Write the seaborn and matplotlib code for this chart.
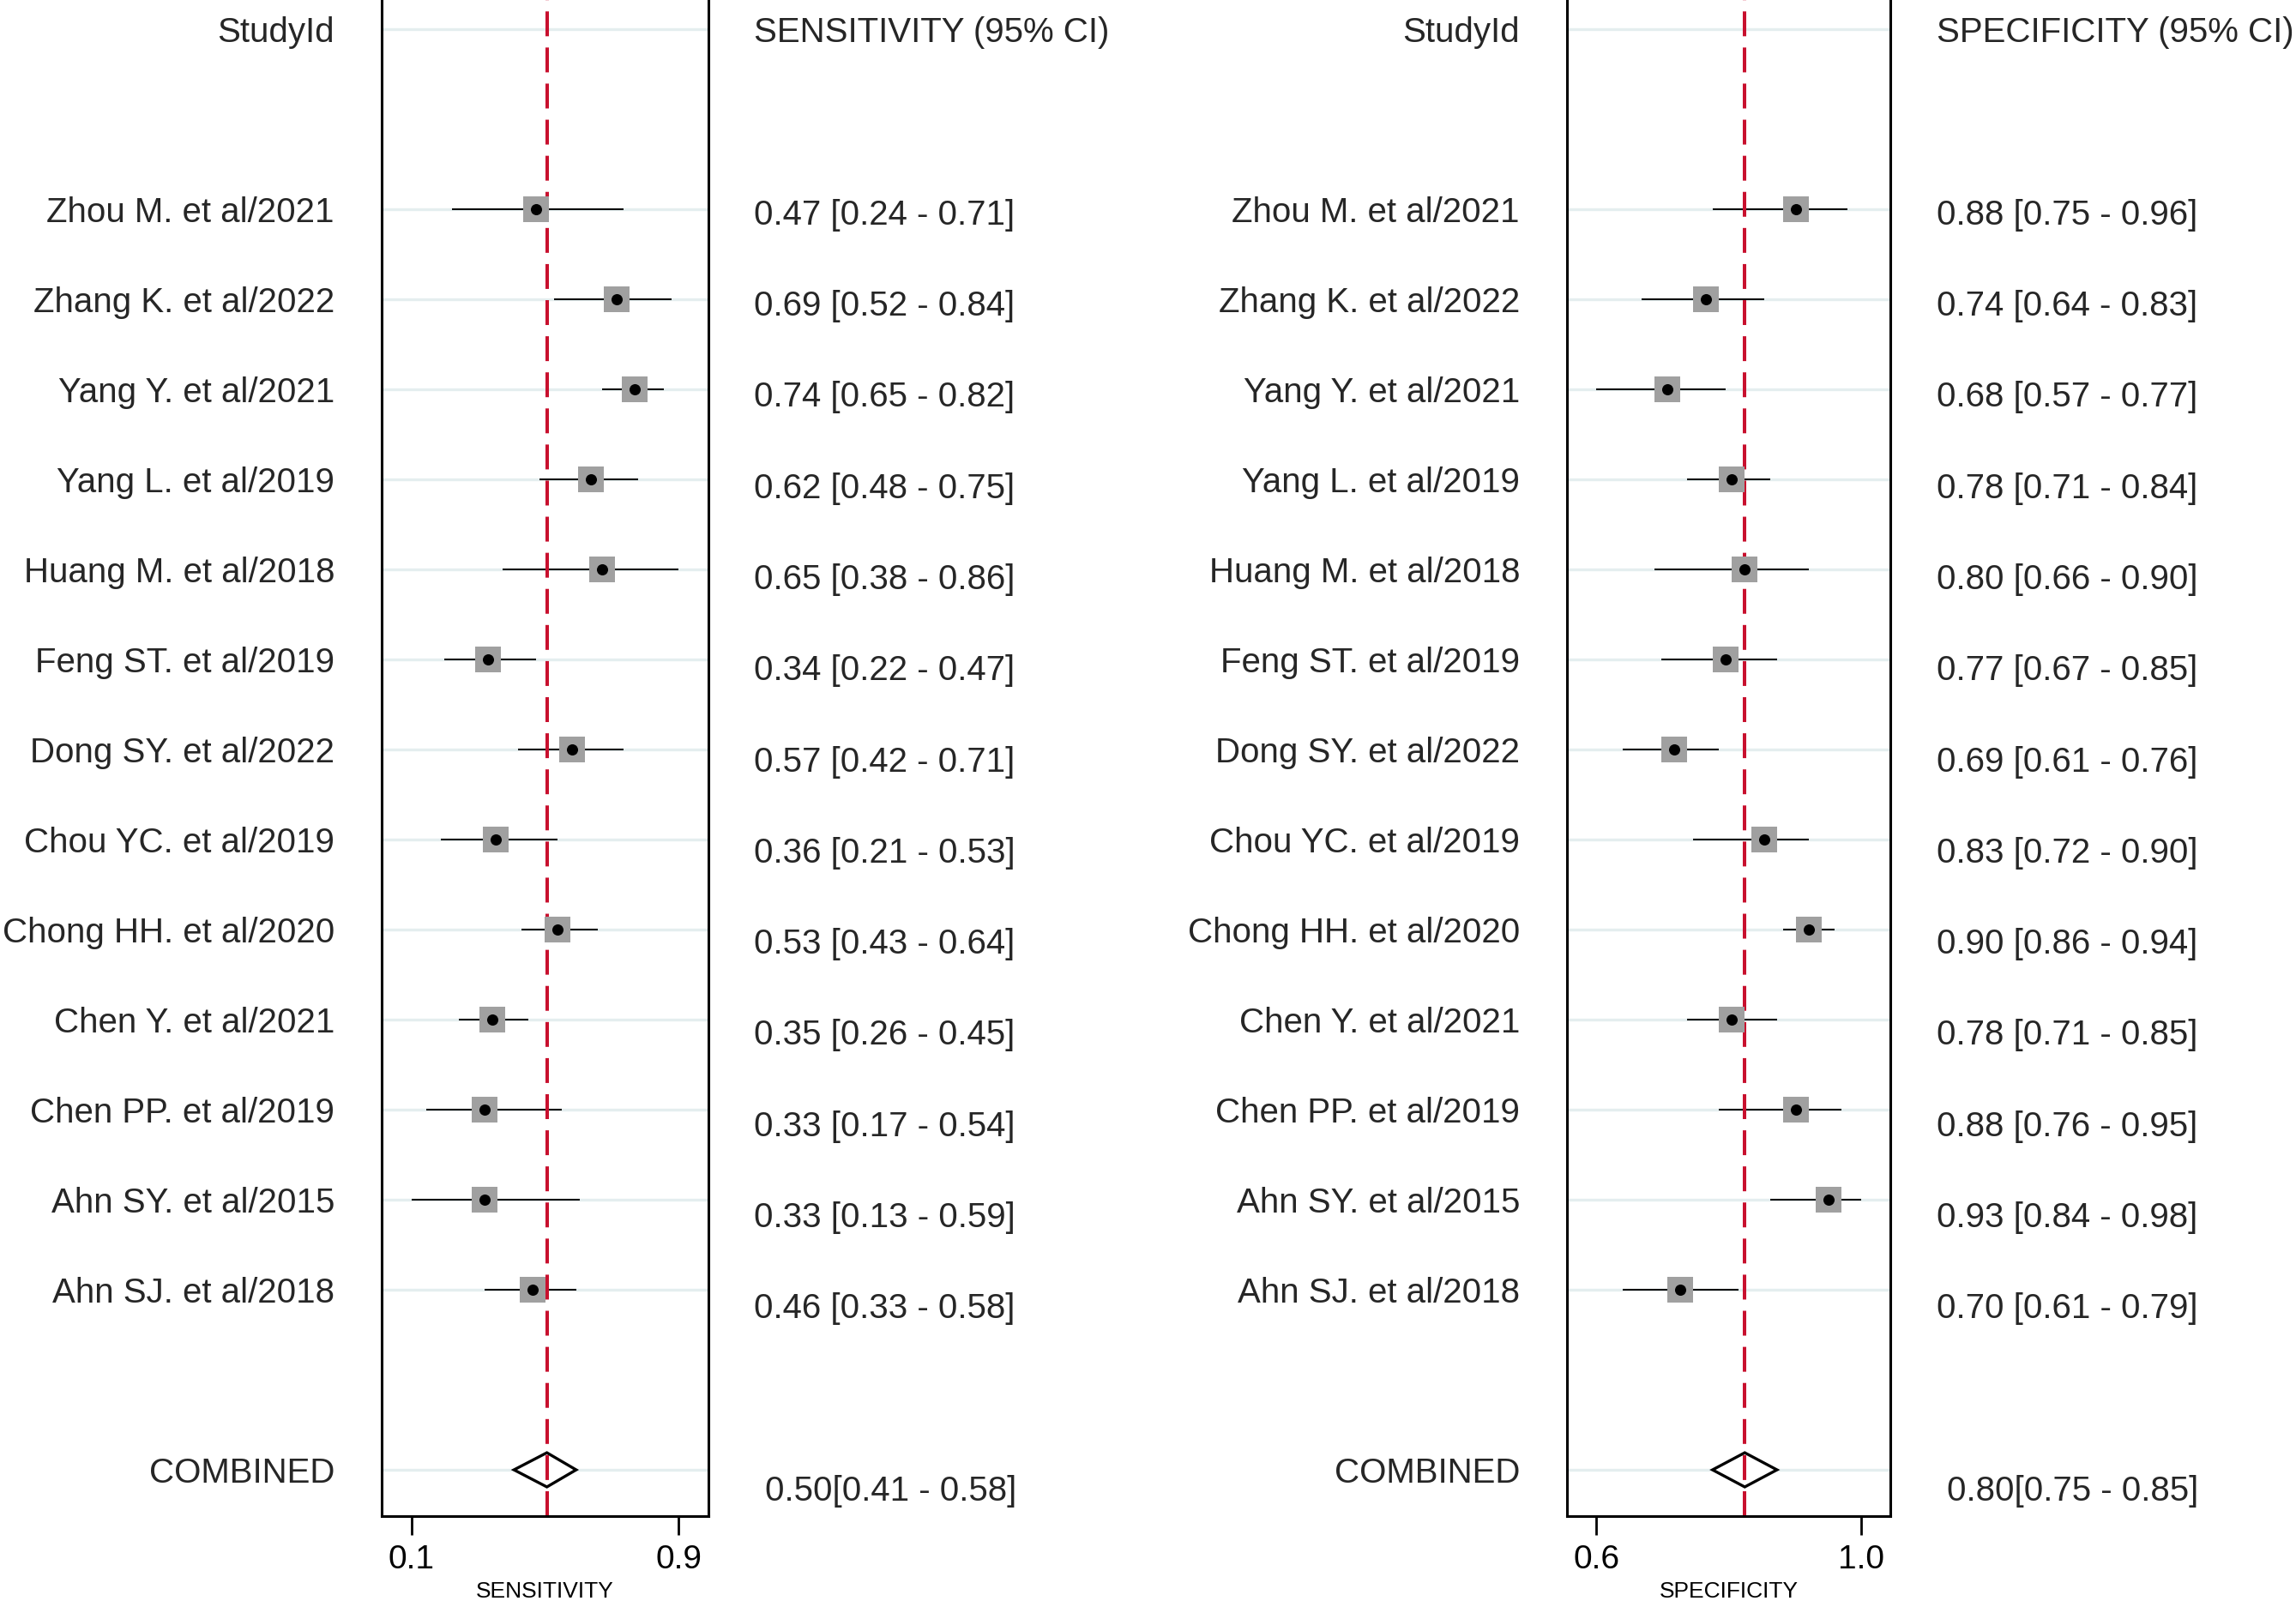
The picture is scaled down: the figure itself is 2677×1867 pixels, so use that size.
import numpy as np
import pandas as pd
import seaborn as sns
import matplotlib
matplotlib.use("Agg")
from matplotlib import pyplot as plt
from matplotlib.patches import Polygon
from matplotlib.transforms import blended_transform_factory

# ------- data -------
studies = ["Zhou M. et al/2021", "Zhang K. et al/2022", "Yang Y. et al/2021",
           "Yang L. et al/2019", "Huang M. et al/2018", "Feng ST. et al/2019",
           "Dong SY. et al/2022", "Chou YC. et al/2019", "Chong HH. et al/2020",
           "Chen Y. et al/2021", "Chen PP. et al/2019", "Ahn SY. et al/2015",
           "Ahn SJ. et al/2018"]

sens = [0.47, 0.69, 0.74, 0.62, 0.65, 0.34, 0.57, 0.36, 0.53, 0.35, 0.33, 0.33, 0.46]
sens_lo = [0.24, 0.52, 0.65, 0.48, 0.38, 0.22, 0.42, 0.21, 0.43, 0.26, 0.17, 0.13, 0.33]
sens_hi = [0.71, 0.84, 0.82, 0.75, 0.86, 0.47, 0.71, 0.53, 0.64, 0.45, 0.54, 0.59, 0.58]

spec = [0.88, 0.74, 0.68, 0.78, 0.80, 0.77, 0.69, 0.83, 0.90, 0.78, 0.88, 0.93, 0.70]
spec_lo = [0.75, 0.64, 0.57, 0.71, 0.66, 0.67, 0.61, 0.72, 0.86, 0.71, 0.76, 0.84, 0.61]
spec_hi = [0.96, 0.83, 0.77, 0.84, 0.90, 0.85, 0.76, 0.90, 0.94, 0.85, 0.95, 0.98, 0.79]

sens_pooled = [0.50, 0.41, 0.58]
spec_pooled = [0.80, 0.75, 0.85]
# ----------------------------------------------

sns.set_theme(style="white")
plt.rcParams['font.family'] = ['Liberation Sans', 'DejaVu Sans']

W, H = 2677, 1867
fig = plt.figure(figsize=(W / 100, H / 100), dpi=100)

rows = np.arange(len(studies)) + 2      # header on row 0, studies from row 2
row_comb = rows[-1] + 2

RED = '#c8102e'
GREY = '#a0a0a0'


def panel(left_px, width_px, est, lo, hi, pooled, header, xlabel,
          lab_px, val_px, comb_px):
    ax = fig.add_axes([left_px / W, 1 - 1768 / H, width_px / W, 1768 / H])
    df = pd.DataFrame({'row': rows, 'est': est, 'lo': lo, 'hi': hi})

    tmin, tmax = min(lo), max(hi)
    pad = 0.112 * (tmax - tmin)
    ax.set_xlim(tmin - pad, tmax + pad)
    ax.set_ylim(row_comb + 0.514, -0.324)

    # faint row lines
    ax.hlines(list(rows) + [0, row_comb], tmin - pad, tmax + pad,
              color='#e4eeef', lw=2.4, zorder=0)

    ax.hlines(df['row'], df['lo'], df['hi'], color='black', lw=1.45, zorder=2)
    sns.scatterplot(data=df, x='est', y='row', marker='s', s=20.9 ** 2,
                    color=GREY, linewidth=0, zorder=3, ax=ax)
    sns.scatterplot(data=df, x='est', y='row', marker='o', s=9.4 ** 2,
                    color='black', linewidth=0, zorder=4, ax=ax)

    # pooled diamond
    p, plo, phi = pooled
    dia = Polygon([(plo, row_comb), (p, row_comb - 0.19), (phi, row_comb),
                   (p, row_comb + 0.19)], closed=True, facecolor='white',
                  edgecolor='black', lw=2.4, zorder=1.5)
    ax.add_patch(dia)

    ax.axvline(p, color=RED, lw=2.9, dashes=(7.2, 3.25), zorder=2.5)

    ax.set_yticks([])
    ax.set_xticks([tmin, tmax])
    ax.set_xticklabels([f"{tmin:.1f}", f"{tmax:.1f}"])
    ax.tick_params(axis='x', direction='out', length=15.8, width=2,
                   labelsize=28, pad=8, bottom=True, colors='black')
    ax.set_xlabel(xlabel, fontsize=19, labelpad=5, color='black')
    ax.set_ylabel('')
    for s in ['left', 'right', 'bottom']:
        ax.spines[s].set_color('black')
        ax.spines[s].set_linewidth(2.2)
    ax.spines['top'].set_visible(False)

    tr = blended_transform_factory(fig.transFigure, ax.transData)
    fs = 29
    ax.text(lab_px / W, 0, "StudyId", transform=tr, ha='right',
            va='center_baseline', fontsize=fs, clip_on=False)
    ax.text(val_px / W, 0, header, transform=tr, ha='left',
            va='center_baseline', fontsize=fs, clip_on=False)
    for r, name, e, l, h in zip(rows, studies, est, lo, hi):
        ax.text(lab_px / W, r, name, transform=tr, ha='right',
                va='center_baseline', fontsize=fs, clip_on=False)
        ax.text(val_px / W, r * 1.0125, f"{e:.2f} [{l:.2f} - {h:.2f}]",
                transform=tr, ha='left', va='center_baseline', fontsize=fs,
                clip_on=False)
    ax.text(lab_px / W, row_comb, "COMBINED", transform=tr, ha='right',
            va='center_baseline', fontsize=fs, clip_on=False)
    ax.text(comb_px / W, row_comb * 1.0125, f"{p:.2f}[{plo:.2f} - {phi:.2f}]",
            transform=tr, ha='left', va='center_baseline', fontsize=fs,
            clip_on=False)
    return ax


panel(445, 381, sens, sens_lo, sens_hi, sens_pooled,
      "SENSITIVITY (95% CI)", "SENSITIVITY", 390, 879, 892)
panel(1827, 377, spec, spec_lo, spec_hi, spec_pooled,
      "SPECIFICITY (95% CI)", "SPECIFICITY", 1772, 2258, 2270)

fig.savefig("out.png", dpi=100, facecolor='white')
